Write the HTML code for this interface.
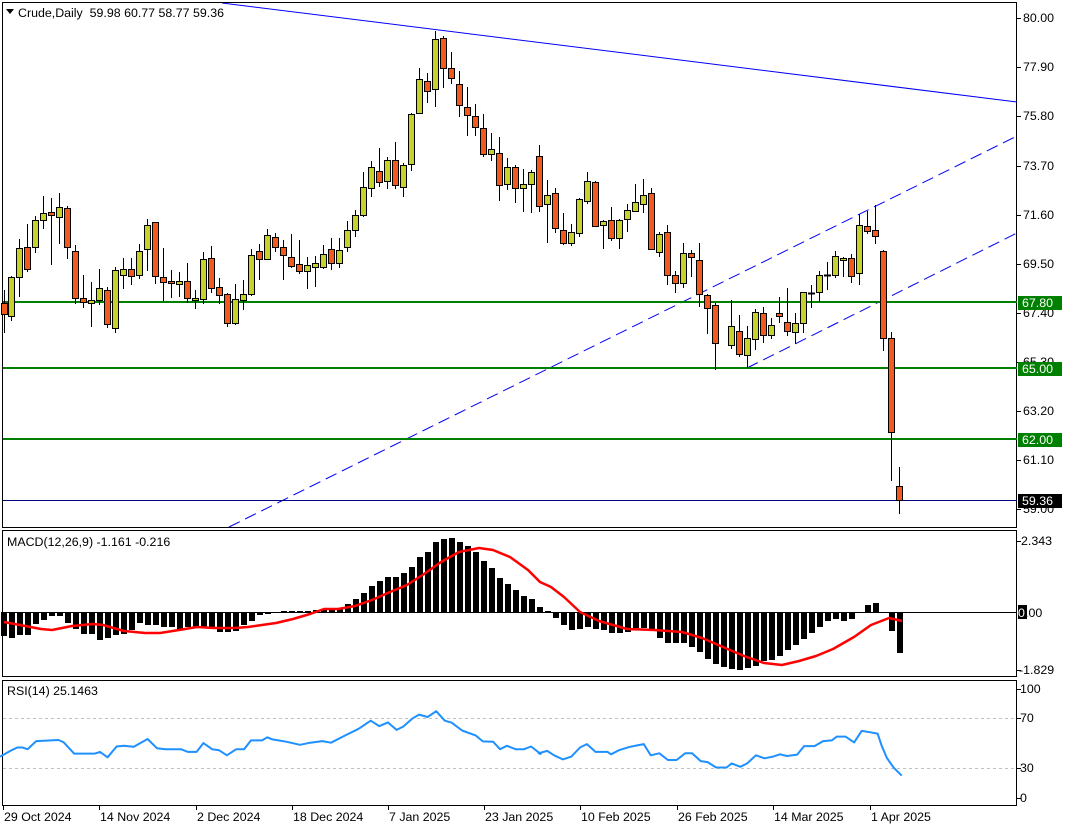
<!DOCTYPE html>
<html><head><meta charset="utf-8"><style>
html,body{margin:0;padding:0;background:#fff;}
svg{display:block;font-family:"Liberation Sans",sans-serif;font-size:12.4px;}
</style></head><body>
<svg id="s" width="1067" height="830" xmlns="http://www.w3.org/2000/svg">
<rect width="1067" height="830" fill="#fff"/>
</svg>
<script>
var S=document.getElementById('s');var ns="http://www.w3.org/2000/svg";
function el(t,a,txt){var e=document.createElementNS(ns,t);for(var k in a)e.setAttribute(k,a[k]);if(txt!=null)e.textContent=txt;S.appendChild(e);return e;}
function line(x1,y1,x2,y2,c,w,d){var a={x1:x1,y1:y1,x2:x2,y2:y2,stroke:c,'stroke-width':w||1};if(d)a['stroke-dasharray']=d;return el('line',a);}
function text(x,y,t,c,anchor){var e=el('text',{x:x,y:y,fill:c||'#000','text-anchor':anchor||'start'},t);e.setAttribute('style','white-space:pre');return e;}
el('rect',{x:2.5,y:2.5,width:1014,height:525,fill:'none',stroke:'#000'});
el('rect',{x:2.5,y:530.5,width:1014,height:146,fill:'none',stroke:'#000'});
el('rect',{x:2.5,y:680.5,width:1014,height:125,fill:'none',stroke:'#000'});
var clip=el('clipPath',{id:'c1'});var cr=document.createElementNS(ns,'rect');cr.setAttribute('x',3);cr.setAttribute('y',3);cr.setAttribute('width',1014);cr.setAttribute('height',525);clip.appendChild(cr);
var g=el('g',{'clip-path':'url(#c1)'});
function gl(x1,y1,x2,y2,c,w,d){var l=line(x1,y1,x2,y2,c,w,d);g.appendChild(l);return l;}
gl(222,3,1017,102,'#0000ff',1);
gl(229,527,1017,136,'#0000ff',1,'12,6');
gl(747,368,1017,233,'#0000ff',1,'12,6');
gl(3,302,1017,302,'#008000',2);
gl(3,368,1017,368,'#008000',2);
gl(3,439,1017,439,'#008000',2);
gl(3,500.5,1017,500.5,'#000080',1);
var C=[[4,303,314,290,333,0],[11,277,316,276,321,1],[19,248,277,239,297,1],[27,247,269,224,272,0],[35,220,247,216,253,1],[43,213,220,196,229,1],[51,212,215,198,265,0],[59,207,217,193,244,1],[67,208,247,206,259,0],[75,251,298,245,304,0],[83,298,302,275,308,0],[91,300,303,282,327,1],[99,288,300,269,305,1],[107,290,324,287,328,0],[115,270,328,267,333,1],[123,269,275,258,289,1],[131,269,276,258,285,0],[139,251,275,244,279,1],[147,225,249,219,271,1],[155,222,276,222,284,0],[163,277,282,248,301,0],[171,281,283,270,298,0],[179,281,284,272,297,1],[187,281,298,263,303,0],[195,298,300,290,309,1],[203,259,299,252,304,1],[211,258,288,246,293,0],[219,287,295,278,304,0],[227,294,323,293,327,0],[235,299,323,284,325,1],[243,294,300,280,310,1],[251,255,294,249,296,1],[259,251,259,244,280,0],[267,235,259,229,260,1],[275,237,247,233,252,0],[283,247,255,240,280,0],[291,257,266,234,268,0],[299,264,271,240,274,0],[307,265,271,257,289,1],[315,263,267,256,287,1],[323,254,267,245,269,1],[331,249,263,238,270,0],[339,250,263,238,268,1],[347,230,247,221,252,1],[355,215,230,210,237,1],[363,187,215,172,217,1],[371,167,188,161,197,1],[379,171,182,148,187,0],[387,160,181,157,189,1],[395,160,185,142,189,0],[403,165,187,163,197,1],[411,114,164,113,171,1],[419,79,113,68,114,1],[427,81,91,73,103,0],[435,39,89,31,107,1],[443,38,68,36,88,0],[451,68,78,52,84,0],[459,84,105,71,117,0],[467,107,115,87,136,0],[475,116,127,104,136,0],[483,128,154,114,157,0],[491,149,154,133,161,1],[499,153,185,137,201,0],
[507,167,184,158,190,1],[515,167,188,165,203,0],[523,184,188,169,212,1],[531,172,184,170,213,1],[539,156,206,145,212,0],[547,195,204,180,243,1],[555,193,228,188,233,0],[563,230,243,213,245,0],[571,232,243,224,246,1],[579,199,233,198,237,1],[587,181,201,172,204,1],[595,182,226,181,227,0],[603,221,225,220,249,1],[611,220,238,207,241,0],[619,220,238,219,249,1],[627,210,219,204,232,1],[635,202,211,184,212,1],[643,195,204,179,213,1],[651,193,249,188,250,0],[659,234,252,232,257,1],[667,232,275,225,285,0],[675,275,283,271,293,0],[683,253,283,243,288,1],[691,253,257,250,277,0],[699,260,294,243,307,0],[707,295,308,294,334,0],[715,305,343,303,370,0],[731,326,345,300,349,1],[739,331,354,315,357,0],[747,338,355,326,368,1],[755,312,339,309,350,1],[763,313,335,307,343,0],[771,325,335,318,339,1],[779,313,316,297,323,0],[787,322,331,288,336,0],[795,323,332,313,344,1],[803,292,323,292,333,1],[811,293,294,285,308,1],[819,275,292,271,302,1],[827,275,276,262,290,1],[835,256,275,251,278,1],[843,258,260,257,277,1],[851,258,276,254,283,0],[859,225,273,214,285,1],[867,226,231,211,234,0],[875,230,236,205,244,0],[883,251,338,250,351,0],[891,338,432,332,481,0],[899,486,500,467,514,0]];
C.forEach(function(c){var x=c[0]+0.5;line(x,c[3],x,c[4],'#000',1);
 var h=Math.max(c[2]-c[1],1);
 if(c[2]-c[1]<2){line(c[0]-3,c[1]+0.5,c[0]+4,c[1]+0.5,'#000',2);}
 else el('rect',{x:c[0]-2.5,y:c[1]+0.5,width:6,height:h,fill:c[5]?'#c5d22b':'#f25a1e',stroke:'#000','stroke-width':1});});
var lv=[[18,'80.00'],[67,'77.90'],[116,'75.80'],[166,'73.70'],[215,'71.60'],[264,'69.50'],[313,'67.40'],[362,'65.30'],[411,'63.20'],[460,'61.10'],[509,'59.00']];
lv.forEach(function(a){line(1017,a[0]+0.5,1021,a[0]+0.5,'#000',1);text(1023,a[0]+4,a[1]);});
function box(y,t,bg){el('rect',{x:1018,y:y-7,width:44,height:14,fill:bg});text(1022,y+4,t,'#fff');}
box(303,'67.80','#008000');box(369,'65.00','#008000');box(440,'62.00','#008000');box(501,'59.36','#000');
el('path',{d:'M6,9 L14,9 L10,14 Z',fill:'#000'});
text(18,17,'Crude,Daily  59.98 60.77 58.77 59.36');
var Z=612;
var H=[-24,-26,-23,-23,-12,-8,-4,-4,-11,-17,-22,-22,-28,-26,-23,-22,-18,-11,-13,-13,-15,-15,-17,-15,-15,-15,-16,-20,-20,-19,-13,-9,-3,-2,0,1,1,1,1,2,3,3,4,8,13,19,26,31,35,35,39,45,55,60,70,73,74,70,66,60,51,44,34,28,22,16,
13,5,1,-6,-13,-18,-17,-15,-17,-18,-21,-21,-20,-16,-16,-19,-26,-31,-31,-31,-35,-40,-47,-52,-55,-57,-58,-56,-54,-49,-48,-44,-38,-33,-27,-21,-15,-9,-7,-9,-7,0,7,9,0,-19,-41];
H.forEach(function(v,k){var x=4+8*k-3;if(v===0)return;var y=v>0?Z-v:Z;el('rect',{x:x,y:y,width:6,height:Math.abs(v),fill:'#000'});});
line(3,Z+0.5,1017,Z+0.5,'#000',1);
var SG=[[4,-10],[41,-17],[52,-18],[72,-14],[93,-12],[103,-13],[124,-19],[145,-21],[160,-21],[179,-18],[197,-15],[214,-16],[234,-16],[248,-15],[262,-13],[276,-11],[293,-7],[310,-2],[324,3],[338,3],[355,6],[372,12],[390,20],[407,27],[424,38],[441,50],[459,60],[479,64],[493,62],[510,55],[528,42],[540,30],[551,25],[564,15],[580,0],[599,-9],[627,-17],[654,-18],[682,-20],[702,-26],[723,-35],[744,-44],[764,-51],[782,-53],[799,-49],[816,-44],[833,-37],[854,-25],[871,-13],[889,-6],[902,-9]];
el('polyline',{points:SG.map(function(p){return p[0]+','+(Z-p[1]);}).join(' '),fill:'none',stroke:'#ff0000','stroke-width':2.5,'stroke-linejoin':'round'});
text(7,546,'MACD(12,26,9) -1.161 -0.216');
line(1017,541.5,1021,541.5,'#000',1);text(1021,545,'2.343');
line(1017,670.5,1021,670.5,'#000',1);text(1019,674,'-1.829');
el('rect',{x:1018,y:605,width:9,height:14,fill:'#000'});text(1018,617,'0','#fff');text(1025,617,'.00');
line(3,718.5,1017,718.5,'#c0c0c0',1,'3,3');line(3,768.5,1017,768.5,'#c0c0c0',1,'3,3');
var R1=[[0,232],[30,215],[50,205],[65,205],[80,210],[105,186],[170,183],[185,190],[215,223],[275,223],[290,218],[312,234],[338,202],[360,200],[388,203],[428,180],[455,207],[480,210],[525,210],[545,218],[570,218],[590,192],[615,210],[635,213],[658,228],[685,210],[708,210],[728,184],[760,184],[775,175],[790,181],[830,188],[870,197],[900,191],[935,186],[960,191],[1000,170],[1040,150],[1075,126],[1100,142],[1125,131],[1150,153],[1170,143],[1195,120],[1215,108],[1240,115],[1265,98],[1290,126],[1310,132],[1340,155],[1380,170],[1400,187],[1430,188],[1450,210],[1470,200],[1495,210],[1520,210],[1540,202],[1568,224]];
var R2=[[25,222],[50,215],[70,228],[95,240],[120,232],[145,205],[165,195],[190,218],[225,218],[235,225],[260,212],[290,203],[330,195],[350,228],[375,222],[400,242],[425,242],[450,222],[470,222],[495,245],[515,248],[540,264],[570,264],[585,252],[610,262],[630,252],[655,228],[680,237],[705,232],[725,225],[745,230],[775,226],[795,201],[825,201],[850,186],[875,184],[890,173],[915,173],[940,190],[962,156],[985,160],[1008,164],[1020,200],[1035,236],[1055,265],[1078,288]];
var pts=R1.map(function(p){return (p[0]/2.9).toFixed(1)+','+(678+p[1]/2.95).toFixed(1);}).concat(R2.map(function(p){return (530+p[0]/2.9).toFixed(1)+','+(678+p[1]/2.95).toFixed(1);}));
el('polyline',{points:pts.join(' '),fill:'none',stroke:'#1e90ff','stroke-width':2,'stroke-linejoin':'round'});
text(7,695,'RSI(14) 25.1463');
[[689,'100'],[718,'70'],[768,'30'],[798,'0']].forEach(function(a){line(1017,a[0]+0.5,1021,a[0]+0.5,'#000',1);text(1020,a[0]+4,a[1]);});
[[3,'29 Oct 2024'],[99,'14 Nov 2024'],[196,'2 Dec 2024'],[292,'18 Dec 2024'],[388,'7 Jan 2025'],[484,'23 Jan 2025'],[580,'10 Feb 2025'],[677,'26 Feb 2025'],[773,'14 Mar 2025'],[870,'1 Apr 2025']].forEach(function(a){line(a[0]+0.5,806,a[0]+0.5,810,'#000',1);text(a[0]+1,821,a[1]);});
</script>
</body></html>
